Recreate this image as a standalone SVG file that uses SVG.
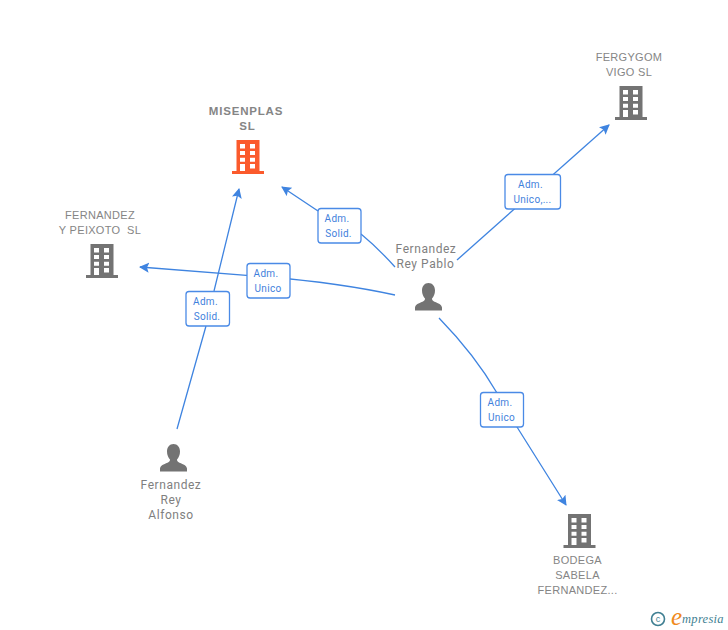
<svg xmlns="http://www.w3.org/2000/svg" width="728" height="630" viewBox="0 0 728 630">
<style>
.edge{fill:none;stroke:#3f84e0;stroke-width:1.3}
.box{fill:#fff;stroke:#4a8ae6;stroke-width:1.3}
.bl{font:10px Roboto,"Liberation Sans",sans-serif;fill:#3f7fdc;text-anchor:middle;letter-spacing:.3px}
.lb{font:12px Roboto,"Liberation Sans",sans-serif;fill:#7f7f7f;text-anchor:middle;letter-spacing:.55px}
.co{font:11px "Liberation Sans",Arial,sans-serif;fill:#858585;text-anchor:middle;letter-spacing:.3px}
.main{font:bold 11.500px "Liberation Sans",Arial,sans-serif;fill:#858585;text-anchor:middle;letter-spacing:.8px}
.g{fill:#737373}
.o{fill:#fb5a2c}
</style>
<defs>
<marker id="a" markerWidth="12" markerHeight="12" refX="9" refY="5" orient="auto" markerUnits="userSpaceOnUse"><path d="M0 0L10 5L0 10L2 5Z" fill="#3f84e0"/></marker>
<path id="bld" fill-rule="evenodd" d="M4.500 0H27.500V31H32V34H0V31H4.500ZM8 4V8.500H13V4ZM18 4V8.500H23V4ZM8 11V15H13V11ZM18 11V15H23V11ZM8 17.700V21.700H13V17.700ZM18 17.700V21.700H23V17.700ZM8 24V31H13V24ZM18 24V28.500H23V24Z"/>
<path id="per" d="M13.500 0C9.500 0 7 3.300 7 7.500C7 11 8.300 13.500 10 15.500C10 17 9.500 17.800 7.500 18.700C3.500 20.300 .5 21.500 0 24.500V27.500H27V24.500C26.500 21.500 23.500 20.300 19.500 18.700C17.500 17.800 17 17 17 15.500C18.700 13.500 20 11 20 7.500C20 3.300 17.500 0 13.500 0Z"/>
</defs>
<g id="connectors">
<path class="edge" d="M177 429L206 326M214 291L239 189" marker-end="url(#a)"/>
<path class="edge" d="M395 267Q378 248 361 234M318 211L282 187" marker-end="url(#a)"/>
<path class="edge" d="M395 295Q340 283 268 277L140 267" marker-end="url(#a)"/>
<path class="edge" d="M457 260L609 125" marker-end="url(#a)"/>
<path class="edge" d="M439 318Q475 355 497 393L517 427L566 505" marker-end="url(#a)"/>
</g>
<g id="misenplas"><use href="#bld" x="232" y="140" class="o"/><text class="main" x="246" y="115">MISENPLAS</text><text class="main" x="247.500" y="130">SL</text></g>
<g id="fergygom"><use href="#bld" x="615" y="86" class="g"/><text class="co" x="629" y="61">FERGYGOM</text><text class="co" x="629" y="76">VIGO SL</text></g>
<g id="peixoto"><use href="#bld" x="86" y="244" class="g"/><text class="co" x="100" y="219">FERNANDEZ</text><text class="co" x="100" y="234" xml:space="preserve">Y PEIXOTO  SL</text></g>
<g id="bodega"><use href="#bld" x="563.500" y="514" class="g"/><text class="co" x="577.500" y="564">BODEGA</text><text class="co" x="577.500" y="579">SABELA</text><text class="co" x="577.500" y="594">FERNANDEZ...</text></g>
<g id="pablo"><use href="#per" x="415" y="283" class="g"/><text class="lb" x="426" y="253">Fernandez</text><text class="lb" x="425.500" y="268">Rey Pablo</text></g>
<g id="alfonso"><use href="#per" x="160" y="444" class="g"/><text class="lb" x="171" y="489">Fernandez</text><text class="lb" x="171" y="504">Rey</text><text class="lb" x="171" y="519">Alfonso</text></g>
<g id="l1"><rect class="box" x="186" y="291.500" width="43.500" height="34.500" rx="3"/><text class="bl" x="205.500" y="305">Adm.</text><text class="bl" x="207" y="320">Solid.</text></g>
<g id="l2"><rect class="box" x="318" y="208.500" width="43" height="34.500" rx="3"/><text class="bl" x="337" y="222">Adm.</text><text class="bl" x="338.500" y="237">Solid.</text></g>
<g id="l3"><rect class="box" x="247" y="263.500" width="43" height="34.500" rx="3"/><text class="bl" x="266" y="277">Adm.</text><text class="bl" x="268" y="292">Unico</text></g>
<g id="l4"><rect class="box" x="505" y="174.500" width="55.500" height="34.500" rx="3"/><text class="bl" x="530.500" y="188">Adm.</text><text class="bl" x="532.500" y="203">Unico,...</text></g>
<g id="l5"><rect class="box" x="480.500" y="392.500" width="43" height="34.500" rx="3"/><text class="bl" x="500" y="406">Adm.</text><text class="bl" x="501.500" y="421">Unico</text></g>
<g id="logo"><circle cx="658" cy="619" r="6.500" fill="none" stroke="#3f7f92" stroke-width="1.600"/><text x="658" y="622" font-family="Liberation Sans,sans-serif" font-size="9" fill="#3f7f92" text-anchor="middle">c</text><text x="671" y="625" font-family="Liberation Serif,serif" font-style="italic" font-size="25" fill="#f08a1d">e</text><text x="682" y="623" font-family="Liberation Serif,serif" font-style="italic" font-size="12.500" fill="#3f7f92" letter-spacing=".3">mpresia</text></g>
</svg>
